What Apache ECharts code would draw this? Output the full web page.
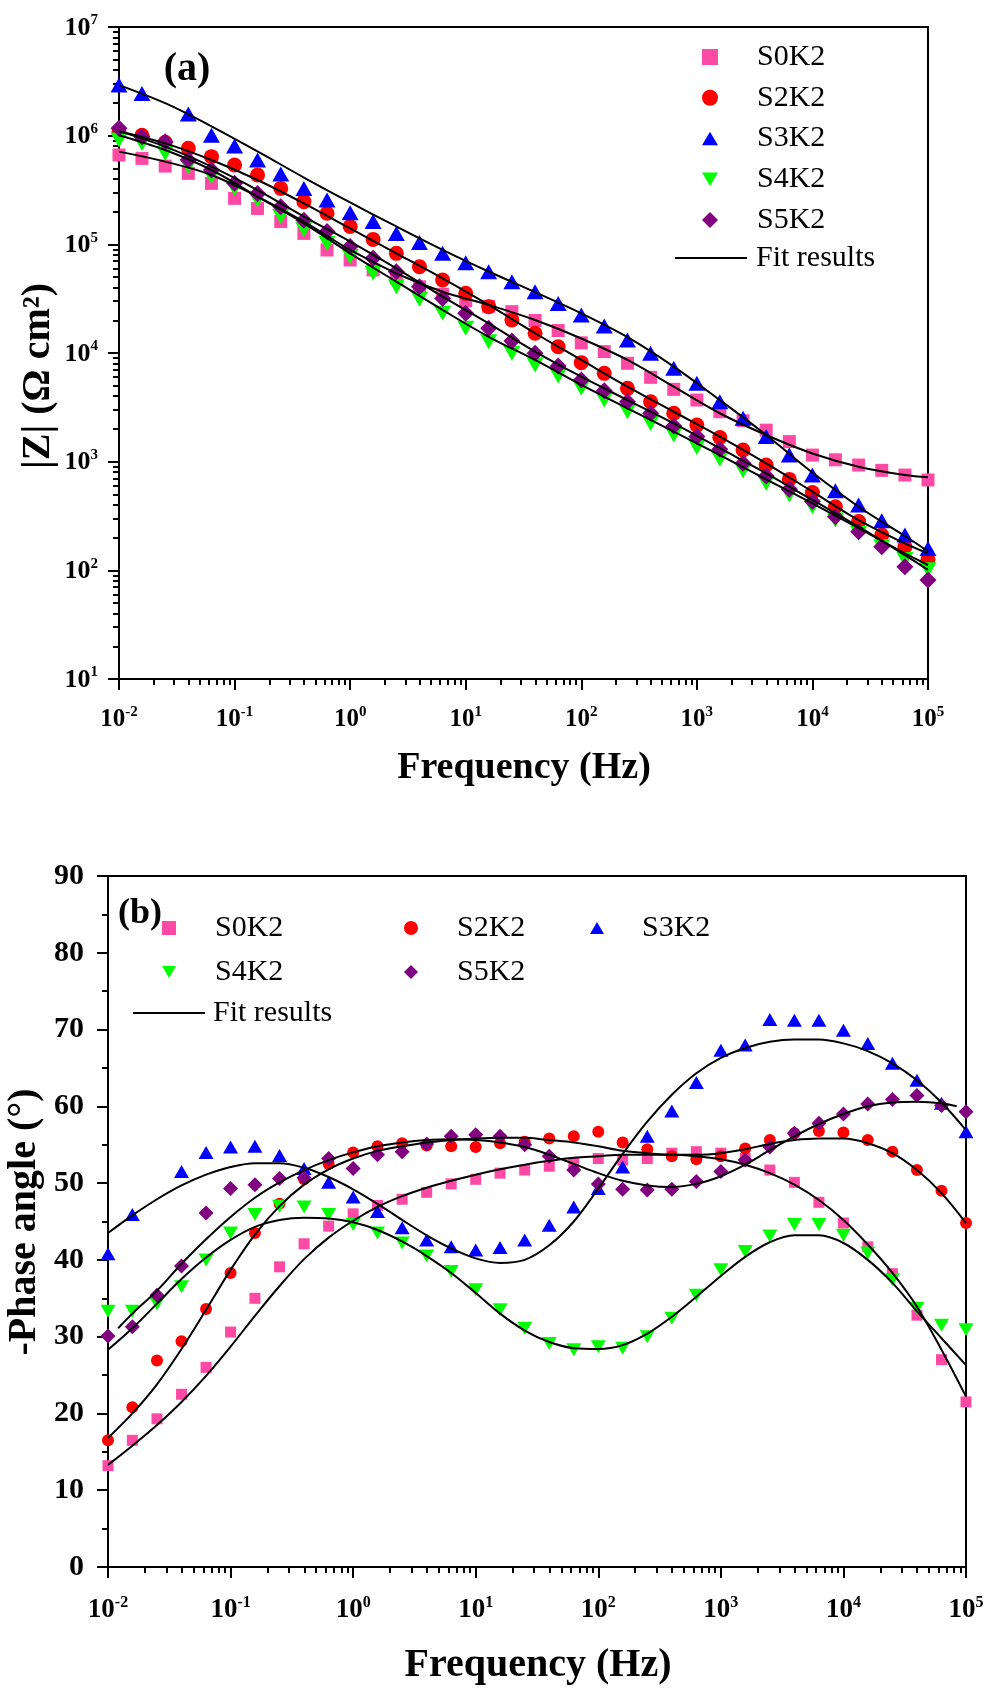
<!DOCTYPE html>
<html>
<head>
<meta charset="utf-8">
<title>Bode plots: |Z| and phase angle</title>
<script src="https://cdn.jsdelivr.net/npm/echarts@6/dist/echarts.min.js"></script>
<style>
  html, body { margin: 0; padding: 0; background: #ffffff; }
  #chart { width: 991px; height: 1688px; }
</style>
</head>
<body>
<div id="chart"></div>
<script>
// Measurement frequencies (Hz), five points per decade
const freq = [0.01, 0.0158, 0.0251, 0.0398, 0.0631, 0.1, 0.158, 0.251, 0.398, 0.631,
  1, 1.58, 2.51, 3.98, 6.31, 10, 15.8, 25.1, 39.8, 63.1,
  100, 158, 251, 398, 631, 1000, 1580, 2510, 3980, 6310,
  10000, 15800, 25100, 39800, 63100, 100000];

const sampleNames = ['S0K2', 'S2K2', 'S3K2', 'S4K2', 'S5K2'];
const fitName = 'Fit results';

// |Z| (Ω cm²) measured
const zS0K2 = [6.64e5, 6.18e5, 5.25e5, 4.50e5, 3.64e5, 2.65e5, 2.14e5, 1.62e5, 1.26e5, 8.87e4,
  7.18e4, 5.81e4, 4.90e4, 4.07e4, 3.47e4, 3.02e4, 2.69e4, 2.40e4, 1.99e4, 1.61e4,
  1.24e4, 1.03e4, 8.04e3, 5.97e3, 4.63e3, 3.69e3, 2.88e3, 2.38e3, 1.95e3, 1.53e3,
  1.15e3, 1.04e3, 931, 832, 753, 678];
const zS2K2 = [1.07e6, 1.01e6, 8.7e5, 7.64e5, 6.41e5, 5.37e5, 4.35e5, 3.27e5, 2.47e5, 1.93e5,
  1.46e5, 1.11e5, 8.26e4, 6.22e4, 4.70e4, 3.54e4, 2.67e4, 2.01e4, 1.52e4, 1.14e4,
  8.15e3, 6.50e3, 4.73e3, 3.56e3, 2.79e3, 2.17e3, 1.67e3, 1.28e3, 931, 687,
  519, 385, 281, 211, 165, 126];
const zS3K2 = [2.92e6, 2.45e6, null, 1.58e6, 1.01e6, 8.04e5, 5.97e5, 4.44e5, 3.27e5, 2.56e5,
  1.95e5, 1.62e5, 1.26e5, 1.04e5, 8.26e4, 6.78e4, 5.60e4, 4.53e4, 3.66e4, 2.86e4,
  2.24e4, 1.77e4, 1.32e4, 9.93e3, 7.23e3, 5.26e3, 3.56e3, 2.51e3, 1.70e3, 1.15e3,
  753, 541, 399, 286, 211, 159];
const zS4K2 = [9.12e5, 8.49e5, 6.87e5, 5.19e5, 4.20e5, 3.27e5, 2.56e5, 1.80e5, 1.36e5, 1.02e5,
  7.71e4, 5.41e4, 4.07e4, 3.12e4, 2.32e4, 1.69e4, 1.27e4, 9.93e3, 7.76e3, 6.14e3,
  4.73e3, 3.69e3, 2.88e3, 2.25e3, 1.76e3, 1.35e3, 1.05e3, 826, 632, 493,
  385, 290, 219, 165, 126, 101];
const zS5K2 = [1.17e6, 9.79e5, 8.81e5, 5.97e5, 4.83e5, 3.64e5, 2.94e5, 2.22e5, 1.67e5, 1.31e5,
  9.53e4, 7.43e4, 5.60e4, 4.07e4, 3.18e4, 2.32e4, 1.69e4, 1.29e4, 9.93e3, 7.59e3,
  5.65e3, 4.50e3, 3.56e3, 2.79e3, 2.13e3, 1.70e3, 1.30e3, 966, 738, 556,
  429, 312, 227, 165, 108, 81.5];

// |Z| equivalent-circuit fits
const zFitFreq = [0.01, 0.0251, 0.0631, 0.158, 0.398, 1, 2.51, 6.31, 15.8, 39.8,
  100, 251, 631, 1580, 3980, 10000, 25100, 63100, 100000];
const zFitS0K2 = [7.13e5, 5.77e5, 4.35e5, 2.75e5, 1.62e5, 8.87e4, 5.41e4, 3.66e4, 2.77e4, 2.01e4,
  1.36e4, 8.63e3, 4.90e3, 2.79e3, 1.76e3, 1.19e3, 899, 753, 718];
const zFitS2K2 = [1.10e6, 8.49e5, 5.97e5, 3.91e5, 2.38e5, 1.40e5, 8.26e4, 4.86e4, 2.77e4, 1.52e4,
  8.63e3, 4.90e3, 2.88e3, 1.70e3, 966, 530, 290, 177, 143];
const zFitS3K2 = [2.92e6, 1.99e6, 1.22e6, 7.16e5, 4.12e5, 2.43e5, 1.46e5, 8.91e4, 5.62e4, 3.63e4,
  2.32e4, 1.40e4, 7.50e3, 3.69e3, 1.76e3, 794, 385, 207, 150];
const zFitS4K2 = [1.01e6, 7.38e5, 4.83e5, 2.75e5, 1.56e5, 8.26e4, 4.53e4, 2.49e4, 1.41e4, 8.63e3,
  5.08e3, 3.10e3, 1.89e3, 1.15e3, 687, 414, 244, 143, 112];
const zFitS5K2 = [1.10e6, 7.93e5, 5.19e5, 3.16e5, 1.80e5, 1.06e5, 6.01e4, 3.30e4, 1.87e4, 1.03e4,
  6.05e3, 3.69e3, 2.25e3, 1.33e3, 782, 444, 252, 138, 101];

// -Phase angle (°) measured
const phS0K2 = [13.2, 16.5, 19.3, 22.5, 26.0, 30.6, 35.0, 39.1, 42.1, 44.4,
  46.0, 47.1, 47.9, 48.8, 49.9, 50.5, 51.3, 51.7, 52.2, 52.6,
  53.2, 53.0, 53.2, 53.9, 54.1, 53.9, 53.2, 51.7, 50.1, 47.5,
  44.8, 41.7, 38.2, 32.8, 27.0, 21.5];
const phS2K2 = [16.5, 20.8, 26.9, 29.4, 33.6, 38.3, 43.5, 47.3, 50.5, 52.5,
  54.0, 54.8, 55.2, 54.9, 54.8, 54.7, 55.2, 55.4, 55.8, 56.1,
  56.7, 55.3, 54.4, 53.5, 53.1, 53.5, 54.5, 55.6, 56.5, 56.8,
  56.6, 55.6, 54.1, 51.7, 49.0, 44.8];
const phS3K2 = [40.8, 45.9, null, 51.5, 54.0, 54.7, 54.8, 53.6, 51.9, 50.1,
  48.2, 46.3, 44.2, 42.6, 41.7, 41.3, 41.6, 42.6, 44.5, 46.9,
  49.3, 52.1, 56.1, 59.4, 63.1, 67.3, 68.0, 71.3, 71.2, 71.2,
  69.9, 68.2, 65.6, 63.4, 60.4, 56.7];
const phS4K2 = [33.3, 33.3, 34.3, 36.5, 40.0, 43.5, 45.9, 47.0, 46.9, 45.9,
  44.6, 43.5, 42.2, 40.5, 38.5, 36.1, 33.5, 31.1, 29.1, 28.3,
  28.7, 28.5, 30.0, 32.4, 35.4, 38.7, 41.1, 43.1, 44.6, 44.6,
  43.2, 40.9, 37.4, 33.7, 31.5, 30.9];
const phS5K2 = [30.1, 31.3, 35.4, 39.2, 46.1, 49.3, 49.8, 50.6, 50.7, 53.2,
  51.9, 53.7, 54.1, 55.1, 56.1, 56.3, 56.1, 55.0, 53.5, 51.7,
  49.9, 49.2, 49.1, 49.2, 50.2, 51.5, 53.0, 54.7, 56.5, 57.8,
  59.0, 60.3, 60.9, 61.4, 60.1, 59.3];

// -Phase angle fits (same frequencies; the S5K2 fit spans a slightly shorter range)
const phFitS0K2 = [13.3, 15.8, 18.5, 21.5, 24.9, 28.7, 32.7, 36.6, 40.1, 42.9,
  45.1, 46.9, 48.3, 49.4, 50.3, 51.1, 51.8, 52.4, 52.9, 53.3,
  53.5, 53.7, 53.7, 53.7, 53.5, 53.1, 52.4, 51.3, 49.8, 47.8,
  45.2, 42.0, 38.3, 33.9, 28.3, 22.2];
const phFitS2K2 = [16.8, 20.0, 23.8, 28.4, 33.5, 38.7, 43.3, 47.0, 49.8, 51.8,
  53.2, 54.2, 54.8, 55.3, 55.6, 55.8, 55.9, 55.9, 55.6, 55.3,
  54.8, 54.2, 53.9, 53.7, 53.7, 53.9, 54.4, 55.1, 55.6, 55.8,
  55.8, 55.2, 53.9, 51.7, 48.7, 44.8];
const phFitS3K2 = [43.5, 45.8, 47.9, 49.7, 51.1, 52.1, 52.6, 52.6, 52.0, 50.8,
  49.2, 47.3, 45.2, 43.2, 41.5, 40.2, 39.6, 40.0, 41.9, 45.0,
  49.3, 53.8, 58.0, 61.5, 64.3, 66.3, 67.6, 68.4, 68.7, 68.7,
  68.2, 67.2, 65.6, 63.4, 60.5, 56.9];
const phFitS4K2 = [28.3, 31.1, 34.3, 37.5, 40.3, 42.6, 44.3, 45.2, 45.5, 45.4,
  44.9, 43.9, 42.4, 40.5, 38.3, 35.7, 33.0, 30.8, 29.3, 28.5,
  28.4, 28.9, 30.4, 32.6, 35.2, 37.9, 40.4, 42.3, 43.2, 43.2,
  42.2, 40.0, 37.0, 33.3, 29.8, 26.3];
const phFitS5K2Ends = [0.0121, 84000];
const phFitS5K2 = [31.1, 33.0, 36.0, 39.5, 42.7, 45.6, 48.1, 50.1, 51.7, 53.0,
  54.0, 54.8, 55.3, 55.6, 55.7, 55.6, 55.3, 54.7, 53.7, 52.5,
  51.3, 50.3, 49.7, 49.5, 49.9, 50.9, 52.4, 54.3, 56.1, 57.7,
  59.0, 60.0, 60.5, 60.6, 60.4, 60.0];

// Axis ticks
const freqDecades = [0.01, 0.1, 1, 10, 100, 1000, 10000, 100000];
const zDecades = [10, 100, 1000, 1e4, 1e5, 1e6, 1e7];
const logSteps = [2, 3, 4, 5, 6, 7, 8, 9];
const phaseTicks = [0, 10, 20, 30, 40, 50, 60, 70, 80, 90];

const colorOf = { S0K2: '#ff4aa5', S2K2: '#ff0000', S3K2: '#0000ff', S4K2: '#00ff00', S5K2: '#800080' };
const symbolOf = { S0K2: 'rect', S2K2: 'circle', S3K2: 'triangle', S4K2: 'triangle', S5K2: 'diamond' };
const rotateOf = { S0K2: 0, S2K2: 0, S3K2: 0, S4K2: 180, S5K2: 0 };
const sizeTop = { S0K2: 13, S2K2: 15, S3K2: [17, 15], S4K2: [17, 15], S5K2: 17 };
const sizeBottom = { S0K2: 11, S2K2: 12, S3K2: [15, 13], S4K2: [15, 13], S5K2: 15 };
// legend icons (aspect-kept paths for the two triangles)
const legendIconOf = {
  S0K2: 'path://M0,0 L10,0 L10,10 L0,10 Z',
  S2K2: 'circle',
  S3K2: 'path://M1,0 L2,1.7 L0,1.7 Z',
  S4K2: 'path://M0,0 L2,0 L1,1.7 Z',
  S5K2: 'diamond'
};

const FONT = '"Liberation Serif", "Times New Roman", serif';

function minorOf(decades) {
  const out = [];
  for (let i = 0; i < decades.length - 1; i++) {
    logSteps.forEach(function (m) { out.push(decades[i] * m); });
  }
  return out;
}

function pairs(xs, ys) {
  const out = [];
  for (let i = 0; i < xs.length; i++) {
    if (ys[i] != null) out.push([xs[i], ys[i]]);
  }
  return out;
}

function powLabel(v) {
  const e = Math.round(Math.log10(v));
  return '{b|10}{s|' + e + '}';
}

function powRich(base, sup) {
  return {
    b: { fontSize: base, fontWeight: 'bold', fontFamily: FONT, color: '#000', lineHeight: base + 2, verticalAlign: 'bottom' },
    s: { fontSize: sup, fontWeight: 'bold', fontFamily: FONT, color: '#000', lineHeight: sup, verticalAlign: 'top' }
  };
}

const axisLineStyle = { color: '#000', width: 2 };

function logAxis(dim, gridIndex, min, max, decades, labelSize, supSize, margin) {
  return {
    type: 'log', logBase: 10, gridIndex: gridIndex, min: min, max: max,
    position: dim === 'x' ? 'bottom' : 'left',
    axisLine: { show: true, onZero: false, lineStyle: axisLineStyle },
    axisTick: { show: true, inside: false, length: 11, lineStyle: axisLineStyle, customValues: decades },
    axisLabel: { show: true, margin: margin, customValues: decades, formatter: powLabel, rich: powRich(labelSize, supSize) },
    splitLine: { show: false }
  };
}

function minorLogAxis(dim, gridIndex, min, max, decades) {
  return {
    type: 'log', logBase: 10, gridIndex: gridIndex, min: min, max: max,
    position: dim === 'x' ? 'bottom' : 'left',
    axisLine: { show: false, onZero: false },
    axisTick: { show: true, inside: false, length: 6, lineStyle: axisLineStyle, customValues: minorOf(decades) },
    axisLabel: { show: false },
    splitLine: { show: false }
  };
}

const zData = { S0K2: zS0K2, S2K2: zS2K2, S3K2: zS3K2, S4K2: zS4K2, S5K2: zS5K2 };
const zFits = [zFitS0K2, zFitS2K2, zFitS3K2, zFitS4K2, zFitS5K2];
const phData = { S0K2: phS0K2, S2K2: phS2K2, S3K2: phS3K2, S4K2: phS4K2, S5K2: phS5K2 };
const phFitS5K2Freq = [phFitS5K2Ends[0]].concat(freq.slice(1, freq.length - 1), [phFitS5K2Ends[1]]);
const phFits = [[freq, phFitS0K2], [freq, phFitS2K2], [freq, phFitS3K2], [freq, phFitS4K2], [phFitS5K2Freq, phFitS5K2]];

const series = [];
sampleNames.forEach(function (name) {
  series.push({
    type: 'scatter', name: name, xAxisIndex: 0, yAxisIndex: 0,
    symbol: symbolOf[name], symbolRotate: rotateOf[name], symbolSize: sizeTop[name],
    itemStyle: { color: colorOf[name], opacity: 1 },
    data: pairs(freq, zData[name])
  });
});
zFits.forEach(function (vals) {
  series.push({
    type: 'line', name: fitName, xAxisIndex: 0, yAxisIndex: 0, symbol: 'none', smooth: 0.35,
    lineStyle: { color: '#000', width: 2 }, itemStyle: { color: '#000' },
    data: pairs(zFitFreq, vals)
  });
});
sampleNames.forEach(function (name) {
  series.push({
    type: 'scatter', name: name, xAxisIndex: 2, yAxisIndex: 2,
    symbol: symbolOf[name], symbolRotate: rotateOf[name], symbolSize: sizeBottom[name],
    itemStyle: { color: colorOf[name], opacity: 1 },
    data: pairs(freq, phData[name])
  });
});
phFits.forEach(function (fv) {
  series.push({
    type: 'line', name: fitName, xAxisIndex: 2, yAxisIndex: 2, symbol: 'none', smooth: 0.35,
    lineStyle: { color: '#000', width: 2 }, itemStyle: { color: '#000' },
    data: pairs(fv[0], fv[1])
  });
});

// Legend blocks: square icon box, text pushed right by left padding
function sampleLegend(names, left, top, box, textShift, gap) {
  return {
    orient: 'vertical', left: left, top: top, padding: 0,
    itemWidth: box, itemHeight: box, itemGap: gap, symbolKeepAspect: true,
    selectedMode: false,
    textStyle: { fontFamily: FONT, fontSize: 30, color: '#000', lineHeight: 30, padding: [0, 0, 0, textShift] },
    data: names.map(function (n) { return { name: n, icon: legendIconOf[n] }; })
  };
}
function fitLegend(left, top, lineLen, textShift) {
  return {
    orient: 'vertical', left: left, top: top, padding: 0,
    itemWidth: lineLen, itemHeight: 2, selectedMode: false,
    itemStyle: { color: '#000' },
    textStyle: { fontFamily: FONT, fontSize: 30, color: '#000', lineHeight: 30, padding: [0, 0, 0, textShift] },
    data: [{ name: fitName, icon: 'rect' }]
  };
}

const titleFont = function (size) { return 'bold ' + size + 'px ' + FONT; };
function label(text, x, y, size, rot) {
  return {
    type: 'text', x: x, y: y, rotation: rot || 0,
    style: { text: text, font: titleFont(size), fill: '#000', align: 'center', verticalAlign: 'middle',
      textAlign: 'center', textVerticalAlign: 'middle' }
  };
}

const option = {
  animation: false,
  backgroundColor: '#ffffff',
  textStyle: { fontFamily: FONT },
  grid: [
    { left: 119, top: 27, width: 809, height: 652, show: true, borderColor: '#000', borderWidth: 2, backgroundColor: 'transparent' },
    { left: 108, top: 876, width: 858, height: 691, show: true, borderColor: '#000', borderWidth: 2, backgroundColor: 'transparent' }
  ],
  xAxis: [
    logAxis('x', 0, 0.01, 1e5, freqDecades, 25, 15, 26),
    minorLogAxis('x', 0, 0.01, 1e5, freqDecades),
    logAxis('x', 1, 0.01, 1e5, freqDecades, 27, 16, 28),
    minorLogAxis('x', 1, 0.01, 1e5, freqDecades)
  ],
  yAxis: [
    logAxis('y', 0, 10, 1e7, zDecades, 26, 15, 21),
    minorLogAxis('y', 0, 10, 1e7, zDecades),
    {
      type: 'value', gridIndex: 1, min: 0, max: 90, interval: 10, position: 'left',
      axisLine: { show: true, onZero: false, lineStyle: axisLineStyle },
      axisTick: { show: true, inside: false, length: 11, lineStyle: axisLineStyle, customValues: phaseTicks },
      minorTick: { show: true, splitNumber: 2, length: 6, lineStyle: axisLineStyle },
      axisLabel: { show: true, margin: 24, fontSize: 30, fontWeight: 'bold', fontFamily: FONT, color: '#000', customValues: phaseTicks },
      splitLine: { show: false }, minorSplitLine: { show: false }
    }
  ],
  legend: [
    sampleLegend(sampleNames, 702, 42, 16, 34, 10.75),
    fitLegend(675, 243, 72, 4),
    sampleLegend(['S0K2', 'S4K2'], 162, 913, 14, 34, 14),
    sampleLegend(['S2K2', 'S5K2'], 404, 913, 14, 34, 14),
    sampleLegend(['S3K2'], 590, 913, 14, 33, 14),
    fitLegend(133, 998, 72, 3)
  ],
  graphic: [
    label('(a)', 187, 70, 40),
    label('(b)', 140, 914, 36),
    label('Frequency (Hz)', 524, 768, 38),
    label('Frequency (Hz)', 538, 1666, 40),
    label('|Z| (Ω cm²)', 39, 376, 40, Math.PI / 2),
    label('-Phase angle (°)', 25, 1222, 40, Math.PI / 2)
  ],
  series: series
};

const chart = echarts.init(document.getElementById('chart'), null, { renderer: 'canvas' });
chart.setOption(option);
</script>
</body>
</html>
